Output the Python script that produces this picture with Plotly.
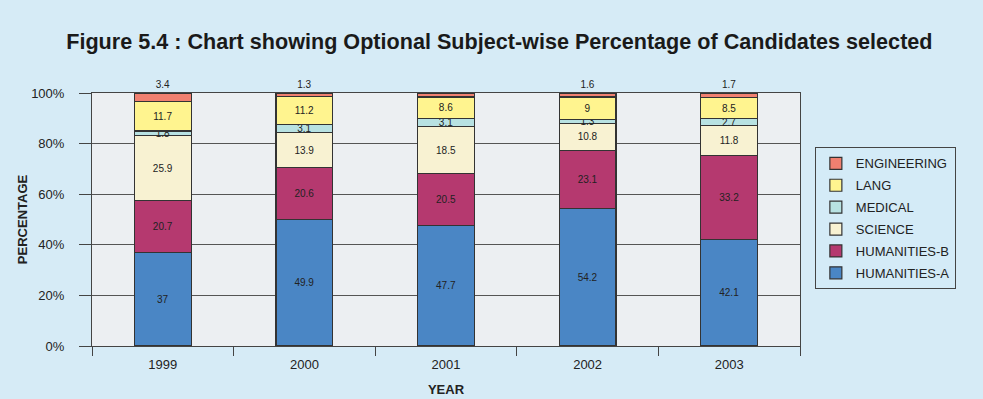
import plotly.graph_objects as go

years = ["1999", "2000", "2001", "2002", "2003"]
humanities_a = [37, 49.9, 47.7, 54.2, 42.1]
humanities_b = [20.7, 20.6, 20.5, 23.1, 33.2]
science = [25.9, 13.9, 18.5, 10.8, 11.8]
medical = [1.8, 3.1, 3.1, 1.3, 2.7]
lang = [11.7, 11.2, 8.6, 9, 8.5]
engineering = [3.4, 1.3, 1.6, 1.6, 1.7]
y_ticks = [0, 20, 40, 60, 80, 100]
y_tick_labels = ["0%", "20%", "40%", "60%", "80%", "100%"]

series = [
    ("HUMANITIES-A", humanities_a, "#4a86c5"),
    ("HUMANITIES-B", humanities_b, "#b5396f"),
    ("SCIENCE", science, "#f8f2d2"),
    ("MEDICAL", medical, "#b8e2e2"),
    ("LANG", lang, "#fff48f"),
    ("ENGINEERING", engineering, "#f08070"),
]

fig = go.Figure()
n = len(series)
for i, (name, vals, col) in enumerate(series):
    top = name == "ENGINEERING"
    fig.add_trace(go.Bar(
        x=years, y=vals, name=name, legendgroup=name, legendrank=n - i,
        marker=dict(color=col, line=dict(color="#333333", width=1.2)),
        text=[str(v) for v in vals],
        textposition="outside" if top else "inside",
        insidetextanchor="middle",
        textfont=dict(family="Liberation Sans, Arial", size=10, color="#222222"),
        constraintext="none",
        cliponaxis=False,
        width=0.4,
        hoverinfo="skip",
    ))

fig.update_layout(
    width=983, height=399,
    barmode="stack", barnorm="percent",
    margin=dict(l=92, r=183, t=93, b=53, autoexpand=False),
    paper_bgcolor="#d6ebf6",
    plot_bgcolor="#eceff2",
    uniformtext=dict(mode="show", minsize=10),
    title=dict(
        text="<b>Figure 5.4 : Chart showing Optional Subject-wise Percentage of Candidates selected</b>",
        x=0.508, xanchor="center", y=0.895, yanchor="middle",
        font=dict(family="Liberation Sans, Arial", size=21.6, color="#1a1a1a"),
    ),
    font=dict(family="Liberation Sans, Arial", color="#222222"),
    legend=dict(
        x=1.021, y=0.785, xanchor="left", yanchor="top",
        traceorder="grouped", tracegroupgap=2,
        bgcolor="rgba(210,235,247,0.5)", bordercolor="#444444", borderwidth=1,
        font=dict(size=13, color="#222222"),
        itemwidth=30,
    ),
    showlegend=True,
)
fig.update_xaxes(
    title=dict(text="<b>YEAR</b>", font=dict(size=13), standoff=14),
    tickson="boundaries", ticks="outside", ticklen=9, tickcolor="#444444",
    showline=True, linecolor="#444444", mirror=True,
    tickfont=dict(size=13), ticklabelstandoff=6, automargin=False,
)
fig.update_yaxes(
    title=dict(text="<b>PERCENTAGE</b>", font=dict(size=13), standoff=0),
    range=[0, 100], tickmode="array", tickvals=y_ticks, ticktext=y_tick_labels,
    ticks="outside", ticklen=12, tickcolor="#444444",
    showgrid=True, gridcolor="#555555", gridwidth=1,
    showline=True, linecolor="#444444", mirror=True,
    tickfont=dict(size=13), zeroline=False, ticklabelstandoff=12, automargin=False,
)

fig.write_html("out.html")
